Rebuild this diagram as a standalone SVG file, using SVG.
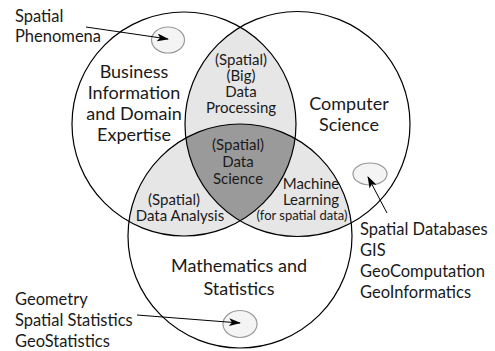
<svg xmlns="http://www.w3.org/2000/svg" width="495" height="351" viewBox="0 0 495 351">
  <style>
    text { font-family: Lato, "Open Sans", sans-serif; fill: #1a1a1a; }
    .big { font-size: 18px; text-anchor: middle; }
    .mid { font-size: 15px; text-anchor: middle; }
    .sm { font-size: 13px; text-anchor: middle; }
    .list { font-size: 16.5px; }
    .ring { fill: none; stroke: #000; stroke-width: 1.2; }
    .spot { fill: #f4f4f4; stroke: #999; stroke-width: 1.2; }
    .pair { fill: #e6e6e6; }
    .core { fill: #9a9a9a; }
    .link { stroke: #000; stroke-width: 1; fill: none; marker-end: url(#head); }
  </style>
  <defs>
    <clipPath id="clipA"><circle cx="184" cy="124" r="112"/></clipPath>
    <clipPath id="clipB"><circle cx="297.5" cy="124" r="112.5"/></clipPath>
    <clipPath id="clipC"><circle cx="240" cy="236" r="112"/></clipPath>
    <marker id="head" viewBox="0 0 12 8" refX="11" refY="4" markerWidth="12" markerHeight="8" markerUnits="userSpaceOnUse" orient="auto">
      <path d="M0,0 L12,4 L0,8 L3,4 Z" fill="#000"/>
    </marker>
  </defs>

  <rect width="495" height="351" fill="#fff"/>

  <!-- overlap shading -->
  <g id="overlaps">
    <circle class="pair" cx="297.5" cy="124" r="112.5" clip-path="url(#clipA)"/>
    <circle class="pair" cx="240" cy="236" r="112" clip-path="url(#clipA)"/>
    <circle class="pair" cx="240" cy="236" r="112" clip-path="url(#clipB)"/>
    <g clip-path="url(#clipA)">
      <circle class="core" cx="240" cy="236" r="112" clip-path="url(#clipB)"/>
    </g>
  </g>

  <!-- the three fields -->
  <g id="business">
    <circle class="ring" cx="184" cy="124" r="112"/>
    <text class="big" x="134" y="78">Business</text>
    <text class="big" x="134" y="99">Information</text>
    <text class="big" x="134" y="120">and Domain</text>
    <text class="big" x="134" y="141">Expertise</text>
  </g>
  <g id="computer-science">
    <circle class="ring" cx="297.5" cy="124" r="112.5"/>
    <text class="big" x="349" y="110">Computer</text>
    <text class="big" x="349" y="131">Science</text>
  </g>
  <g id="mathematics">
    <circle class="ring" cx="240" cy="236" r="112"/>
    <text class="big" x="239" y="272">Mathematics and</text>
    <text class="big" x="239" y="295">Statistics</text>
  </g>

  <!-- overlap labels -->
  <g id="big-data">
    <text class="mid" x="241" y="65">(Spatial)</text>
    <text class="mid" x="241" y="81">(Big)</text>
    <text class="mid" x="241" y="97">Data</text>
    <text class="mid" x="241" y="113">Processing</text>
  </g>
  <g id="data-science">
    <text class="mid" x="238" y="150">(Spatial)</text>
    <text class="mid" x="238" y="167">Data</text>
    <text class="mid" x="238" y="184">Science</text>
  </g>
  <g id="data-analysis">
    <text class="mid" x="174" y="205">(Spatial)</text>
    <text class="mid" x="180" y="221">Data Analysis</text>
  </g>
  <g id="machine-learning">
    <text class="mid" x="311" y="189">Machine</text>
    <text class="mid" x="311" y="205">Learning</text>
    <text class="sm" x="302" y="220">(for spatial data)</text>
  </g>

  <!-- example spots -->
  <g id="spot-phenomena"><ellipse class="spot" cx="168" cy="40" rx="16.5" ry="13"/></g>
  <g id="spot-databases"><ellipse class="spot" cx="370" cy="174" rx="17" ry="11"/></g>
  <g id="spot-statistics"><ellipse class="spot" cx="240" cy="324" rx="17" ry="13.5"/></g>

  <!-- outside labels -->
  <g id="label-phenomena">
    <text class="list" x="15" y="22">Spatial</text>
    <text class="list" x="15" y="42">Phenomena</text>
  </g>
  <g id="label-databases">
    <text class="list" x="360" y="235">Spatial Databases</text>
    <text class="list" x="360" y="256">GIS</text>
    <text class="list" x="360" y="277">GeoComputation</text>
    <text class="list" x="360" y="298">GeoInformatics</text>
  </g>
  <g id="label-statistics">
    <text class="list" x="15" y="305">Geometry</text>
    <text class="list" x="15" y="326">Spatial Statistics</text>
    <text class="list" x="15" y="347">GeoStatistics</text>
  </g>

  <!-- pointers -->
  <g id="connectors">
    <line class="link" x1="86" y1="27" x2="168" y2="39"/>
    <line class="link" x1="387" y1="213" x2="368" y2="177"/>
    <line class="link" x1="137" y1="315" x2="240" y2="323"/>
  </g>
</svg>
